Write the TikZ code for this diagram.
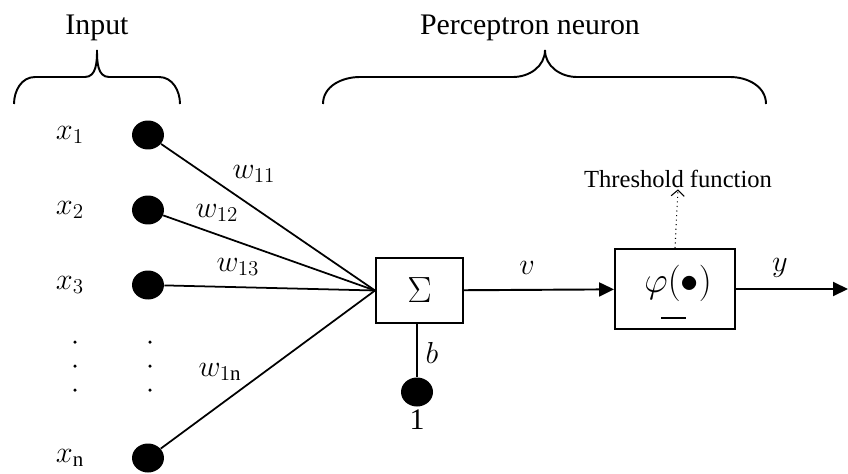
\documentclass[tikz,border=0pt]{standalone}
\usepackage{fontspec}
\setmainfont{Liberation Serif}
\usepackage{amsmath}
\usetikzlibrary{positioning, arrows.meta, shapes.geometric}

\begin{document}
\begin{tikzpicture}[
    x=0.02cm, y=-0.02cm,
    >={Triangle[length=0.3cm, width=0.28cm]},
    dot/.style={ellipse, fill=black, minimum width=0.64cm, minimum height=0.58cm, inner sep=0pt},
    sym/.style={font=\fontsize{17}{20}\selectfont, inner sep=1pt},
    title/.style={font=\fontsize{17}{20}\selectfont, anchor=base},
    box/.style={rectangle, draw, line width=1.1pt, inner sep=0pt},
    wire/.style={line width=1pt},
    arrow/.style={->, line width=1.1pt},
    brace/.style={line width=1.1pt},
  ]
  \useasboundingbox (0,0) rectangle (848,473);

  % === TITLES AND BRACES ===
  \node[title] (intitle) at (97,35) {Input};
  \node[title] (neutitle) at (530,35) {Perceptron neuron};
  \draw[brace] (14,104) to[out=90,in=180] (35,77) -- (85,77) to[out=0,in=-90] (97,50)
    to[out=-90,in=180] (109,77) -- (159,77) to[out=0,in=90] (180,104);
  \draw[brace] (323,104) to[out=90,in=180] (360,77) -- (513,77) to[out=0,in=-90] (545,50)
    to[out=-90,in=180] (577,77) -- (730,77) to[out=0,in=90] (766,104);

  % === INPUTS ===
  \node[dot] (in1) at (148,135) {};
  \node[dot] (in2) at (148,210) {};
  \node[dot] (in3) at (148,285) {};
  \node[dot] (inn) at (148,458) {};
  \node[sym] (x1) at (70,135) {$x_1$};
  \node[sym] (x2) at (70,210) {$x_2$};
  \node[sym] (x3) at (70,285) {$x_3$};
  \node[sym] (xn) at (70,458) {$x_{\mathrm{n}}$};
  \foreach \xx in {75,150}
    \foreach \yy in {342,366,390}
      \fill (\xx,\yy) circle (0.035cm);

  % === NEURON ===
  \node[box, minimum width=1.74cm, minimum height=1.3cm, font=\fontsize{22}{26}\selectfont] (sum) at (419.5,290.5) {$\Sigma$};
  \node[box, minimum width=2.4cm, minimum height=1.6cm, font=\fontsize{21}{24}\selectfont] (phi) at (675,289) {\,\raisebox{3pt}[\height][\depth]{$\varphi(\bullet)$}};
  \draw[line width=0.8pt] (661,318) -- (686,318);
  \node[dot] (one) at (417,392) {};
  \node[sym, below=0.02cm of one] (onelbl) {1};
  \coordinate (out) at (848,289);
  \node[font=\fontsize{14}{16}\selectfont, anchor=base, inner sep=1pt] (thr) at (678,187) {Threshold function};

  % weights and signals
  \node[sym] (w11) at (254,174) {$w_{11}$};
  \node[sym] (w12) at (217,213) {$w_{12}$};
  \node[sym] (w13) at (238,267) {$w_{13}$};
  \node[sym] (w1n) at (220,372) {$w_{1\mathrm{n}}$};
  \node[sym] (blbl) at (432,353) {$b$};
  \node[sym] (vlbl) at (527,268) {$v$};
  \node[sym] (ylbl) at (780,268) {$y$};

  % === CONNECTORS ===
  \foreach \i in {1,2,3,n}
    \draw[wire] (in\i) -- (sum.west);
  \draw[wire] (one) -- (one |- sum.south);
  \draw[arrow] (sum) -- (phi);
  \draw[arrow] (phi) -- (out);
  \draw[dotted, line width=0.6pt, -{Straight Barb[length=1.2mm, width=2.6mm]}] (phi.north) -- (thr.south);

\end{tikzpicture}
\end{document}
